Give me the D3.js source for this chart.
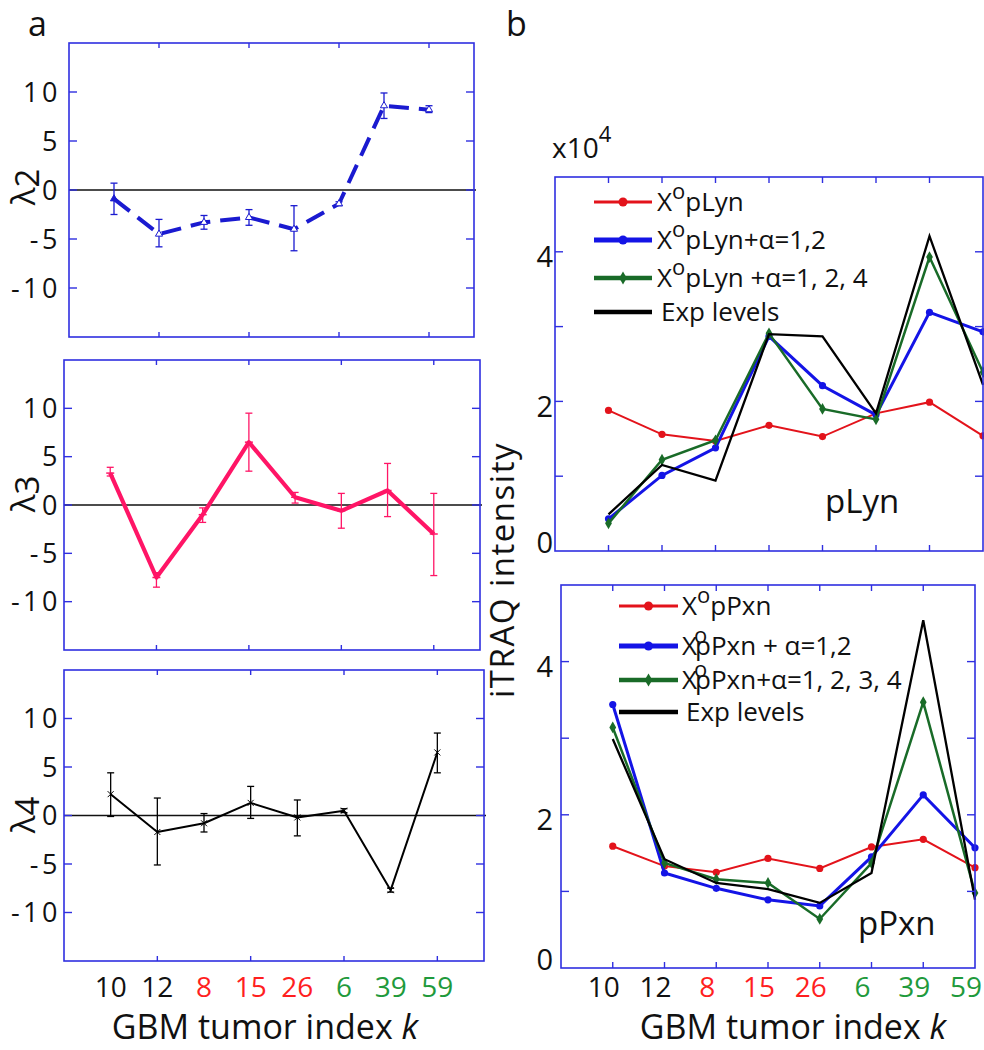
<!DOCTYPE html>
<html>
<head>
<meta charset="utf-8">
<script src="https://cdn.jsdelivr.net/npm/d3@7"></script>
<style>
  html, body { margin: 0; padding: 0; background: #fff; }
  svg { display: block; }
  text { font-family: "Open Sans", "Noto Sans", sans-serif; }
</style>
</head>
<body>
<svg id="chart" width="984" height="1050"></svg>
<script>
// ---------------- DATA ----------------
const categories = ["10", "12", "8", "15", "26", "6", "39", "59"];
const categoryGroup = ["k", "k", "r", "r", "r", "g", "g", "g"];

const yTicksA = [-10, -5, 0, 5, 10];
const xTickIdxA = [1, 3, 5, 7];
const yTicksB = [1, 2, 3, 4];
const yTickLabelsB = [0, 2, 4];
const xTickIdxB = [0, 1, 2, 3, 4, 5, 6];

const lambda2   = [-0.9, -4.5, -3.3, -2.8, -4.0, -1.4, 8.6, 8.2];
const lambda2Lo = [-2.5, -5.8, -4.0, -3.6, -6.2, -1.6, 7.3, 7.9];
const lambda2Hi = [0.7, -3.0, -2.6, -2.0, -1.6, -1.2, 9.9, 8.6];

const lambda3   = [3.3, -7.5, -1.0, 6.5, 0.8, -0.6, 1.5, -3.0];
const lambda3Lo = [3.0, -8.5, -1.8, 3.5, 0.2, -2.4, -1.2, -7.3];
const lambda3Hi = [3.9, -7.0, -0.3, 9.5, 1.3, 1.2, 4.3, 1.2];

const lambda4   = [2.2, -1.7, -0.8, 1.3, -0.2, 0.5, -7.7, 6.5];
const lambda4Lo = [-0.1, -5.1, -1.7, -0.3, -2.1, 0.3, -7.9, 4.4];
const lambda4Hi = [4.4, 1.8, 0.2, 3.0, 1.6, 0.7, -7.5, 8.5];

// iTRAQ intensity (x10^4)
const pLynX0    = [1.88, 1.56, 1.47, 1.68, 1.53, 1.84, 1.99, 1.54];
const pLynA12   = [0.43, 1.01, 1.38, 2.87, 2.21, 1.82, 3.19, 2.93];
const pLynA124  = [0.37, 1.22, 1.48, 2.91, 1.90, 1.76, 3.93, 2.39];
const pLynExp   = [0.49, 1.15, 0.94, 2.90, 2.87, 1.84, 4.21, 2.22];

const pPxnX0    = [1.59, 1.33, 1.25, 1.43, 1.30, 1.58, 1.68, 1.31];
const pPxnA12   = [3.44, 1.24, 1.04, 0.89, 0.81, 1.45, 2.26, 1.57];
const pPxnA1234 = [3.14, 1.37, 1.16, 1.11, 0.64, 1.37, 3.47, 0.98];
const pPxnExp   = [2.99, 1.42, 1.11, 1.03, 0.85, 1.24, 4.54, 0.89];

const legendPLyn = [
  ["X", "o", "pLyn", false],
  ["X", "o", "pLyn+\u03B1=1,2", false],
  ["X", "o", "pLyn +\u03B1=1, 2, 4", false],
  ["Exp levels", "", "", false]
];
const legendPPxn = [
  ["X", "o", "pPxn", false],
  ["X", "o", "pPxn + \u03B1=1,2", true],
  ["X", "o", "pPxn+\u03B1=1, 2, 3, 4", true],
  ["Exp levels", "", "", false]
];

// ---------------- STYLE ----------------
const AXIS = "#2f2fe0";
const groupColor = { k: "#111", r: "#ff1f1f", g: "#1f9a3c" };
const RED = "#e3131b", BLUE = "#1414e6", GREEN = "#196b28", BLACK = "#000";
const PINK = "#ff1566", DBLUE = "#1a1ad0";

const svg = d3.select("#chart");
svg.append("rect").attr("width", 984).attr("height", 1050).attr("fill", "#fff");

function frame(g, x, y, xt, yt, xTickLen, yTickLen) {
  const [x0, x1] = x.range(), [y0, y1] = y.range();
  xt.forEach(i => {
    g.append("line").attr("x1", x(i)).attr("x2", x(i)).attr("y1", y0).attr("y2", y0 - xTickLen)
      .attr("stroke", AXIS).attr("stroke-width", 1.4);
    g.append("line").attr("x1", x(i)).attr("x2", x(i)).attr("y1", y1).attr("y2", y1 + xTickLen)
      .attr("stroke", AXIS).attr("stroke-width", 1.4);
  });
  yt.forEach(v => {
    g.append("line").attr("x1", x0).attr("x2", x0 + yTickLen).attr("y1", y(v)).attr("y2", y(v))
      .attr("stroke", AXIS).attr("stroke-width", 1.4);
    g.append("line").attr("x1", x1).attr("x2", x1 - yTickLen).attr("y1", y(v)).attr("y2", y(v))
      .attr("stroke", AXIS).attr("stroke-width", 1.4);
  });
  g.append("rect").attr("x", x0).attr("y", y1).attr("width", x1 - x0).attr("height", y0 - y1)
    .attr("fill", "none").attr("stroke", AXIS).attr("stroke-width", 1.6);
}

// ---------------- PANEL a ----------------
const aPanels = [
  { box: [69, 474, 43, 337], v: lambda2, lo: lambda2Lo, hi: lambda2Hi, col: DBLUE, w: 4, dash: "20,10",
    ebCol: DBLUE, marker: "tri", sub: "2", lab: [35, 187] },
  { box: [64, 480, 360, 650], v: lambda3, lo: lambda3Lo, hi: lambda3Hi, col: PINK, w: 4.2, dash: null,
    ebCol: PINK, marker: "bar", sub: "3", lab: [35, 494] },
  { box: [64, 484, 670, 961], v: lambda4, lo: lambda4Lo, hi: lambda4Hi, col: BLACK, w: 2, dash: null,
    ebCol: BLACK, marker: "x", sub: "4", lab: [35, 815] }
];

aPanels.forEach(p => {
  const g = svg.append("g");
  const x = d3.scaleLinear().domain([-1, 8]).range([p.box[0], p.box[1]]);
  const y = d3.scaleLinear().domain([-15, 15]).range([p.box[3], p.box[2]]);
  // zero line
  g.append("line").attr("x1", x(-1)).attr("x2", x(8) + 2).attr("y1", y(0)).attr("y2", y(0))
    .attr("stroke", "#111").attr("stroke-width", 1.3);
  // error bars
  p.v.forEach((v, i) => {
    const cx = x(i);
    g.append("line").attr("x1", cx).attr("x2", cx).attr("y1", y(p.lo[i])).attr("y2", y(p.hi[i]))
      .attr("stroke", p.ebCol).attr("stroke-width", 1.3);
    [p.lo[i], p.hi[i]].forEach(e => g.append("line").attr("x1", cx - 3.5).attr("x2", cx + 3.5)
      .attr("y1", y(e)).attr("y2", y(e)).attr("stroke", p.ebCol).attr("stroke-width", 1.3));
  });
  // line
  const line = d3.line().x((d, i) => x(i)).y(d => y(d));
  const path = g.append("path").datum(p.v).attr("d", line).attr("fill", "none")
    .attr("stroke", p.col).attr("stroke-width", p.w).attr("stroke-linejoin", "round");
  if (p.dash) path.attr("stroke-dasharray", p.dash);
  // markers
  p.v.forEach((v, i) => {
    const cx = x(i), cy = y(v);
    if (p.marker === "tri") {
      g.append("path").attr("d", d3.symbol(d3.symbolTriangle, 22)())
        .attr("transform", `translate(${cx},${cy})`).attr("fill", i === 0 ? p.col : "#fff")
        .attr("stroke", p.col).attr("stroke-width", 1);
    } else if (p.marker === "x") {
      g.append("path").attr("d", `M${cx - 3},${cy - 3}L${cx + 3},${cy + 3}M${cx - 3},${cy + 3}L${cx + 3},${cy - 3}`)
        .attr("stroke", p.col).attr("stroke-width", 1);
    } else {
      g.append("line").attr("x1", cx - 4).attr("x2", cx + 4).attr("y1", cy).attr("y2", cy)
        .attr("stroke", p.col).attr("stroke-width", 1.5);
    }
  });
  frame(g, x, y, xTickIdxA, yTicksA, 5, 8);
  // y tick labels
  yTicksA.forEach(v => {
    g.append("text").attr("x", 61).attr("y", y(v)).attr("dy", "0.36em")
      .attr("text-anchor", "end").attr("font-size", 27).attr("letter-spacing", 3.5)
      .attr("fill", "#111").text(v);
  });
  // lambda label
  const t = g.append("text").attr("transform", `translate(${p.lab[0]},${p.lab[1]}) rotate(-90)`)
    .attr("text-anchor", "middle").attr("font-size", 33).attr("fill", "#111");
  t.append("tspan").text("\u03BB");
  t.append("tspan").attr("dy", 4).text(p.sub);
});

// panel a x tick labels
{
  const x = d3.scaleLinear().domain([-1, 8]).range([64, 484]);
  categories.forEach((c, i) => {
    svg.append("text").attr("x", x(i)).attr("y", 997).attr("text-anchor", "middle")
      .attr("font-size", 28).attr("fill", groupColor[categoryGroup[i]]).text(c);
  });
  const t = svg.append("text").attr("x", 265).attr("y", 1039).attr("text-anchor", "middle")
    .attr("font-size", 34).attr("fill", "#111");
  t.append("tspan").text("GBM tumor index ");
  t.append("tspan").attr("font-style", "italic").text("k");
}
svg.append("text").attr("x", 28).attr("y", 36).attr("font-size", 34).attr("fill", "#111").text("a");
svg.append("text").attr("x", 506).attr("y", 36).attr("font-size", 34).attr("fill", "#111").text("b");

// ---------------- PANEL b ----------------
const seriesStyle = [
  { col: RED, w: 2, marker: "circle", legW: 3 },
  { col: BLUE, w: 3, marker: "circle", legW: 5 },
  { col: GREEN, w: 2.5, marker: "diamond", legW: 4.5 },
  { col: BLACK, w: 2.3, marker: null, legW: 4.5 }
];

const bPanels = [
  { box: [555, 983, 177, 551], series: [pLynX0, pLynA12, pLynA124, pLynExp], legend: legendPLyn,
    leg: { x1: 594, x2: 652, tx: 657, ys: [202, 240, 278, 312] }, name: "pLyn", nameXY: [825, 513] },
  { box: [561, 975, 585, 968], series: [pPxnX0, pPxnA12, pPxnA1234, pPxnExp], legend: legendPPxn,
    leg: { x1: 619, x2: 678, tx: 682, ys: [606, 646, 680, 712] }, name: "pPxn", nameXY: [858, 935] }
];

bPanels.forEach(p => {
  const g = svg.append("g");
  const x = d3.scaleLinear().domain([-1, 7]).range([p.box[0], p.box[1]]);
  const y = d3.scaleLinear().domain([0, 5]).range([p.box[3], p.box[2]]);
  const line = d3.line().x((d, i) => x(i)).y(d => y(d));
  p.series.forEach((s, k) => {
    const st = seriesStyle[k];
    g.append("path").datum(s).attr("d", line).attr("fill", "none").attr("stroke", st.col)
      .attr("stroke-width", st.w).attr("stroke-linejoin", "miter");
    s.forEach((v, i) => {
      if (st.marker === "circle") {
        g.append("circle").attr("cx", x(i)).attr("cy", y(v)).attr("r", 3.6).attr("fill", st.col);
      } else if (st.marker === "diamond") {
        g.append("path").attr("d", d3.symbol(d3.symbolDiamond, 40)())
          .attr("transform", `translate(${x(i)},${y(v)})`).attr("fill", st.col);
      }
    });
  });
  frame(g, x, y, xTickIdxB, yTicksB, 6, 8);
  yTickLabelsB.forEach(v => {
    g.append("text").attr("x", 553).attr("y", y(v) + (v === 0 ? -8 : 5)).attr("dy", "0.36em")
      .attr("text-anchor", "end").attr("font-size", 29).attr("fill", "#111").text(v);
  });
  // legend
  p.legend.forEach((e, k) => {
    const st = seriesStyle[k];
    const ly = p.leg.ys[k];
    g.append("line").attr("x1", p.leg.x1).attr("x2", p.leg.x2).attr("y1", ly).attr("y2", ly)
      .attr("stroke", st.col).attr("stroke-width", st.legW);
    const mx = (p.leg.x1 + p.leg.x2) / 2;
    if (st.marker === "circle") g.append("circle").attr("cx", mx).attr("cy", ly).attr("r", 4.5).attr("fill", st.col);
    if (st.marker === "diamond") g.append("path").attr("d", d3.symbol(d3.symbolDiamond, 50)())
      .attr("transform", `translate(${mx},${ly})`).attr("fill", st.col);
    const t = g.append("text").attr("x", k === 3 ? p.leg.tx + 4 : p.leg.tx).attr("y", ly + 9)
      .attr("font-size", 26).attr("fill", "#111");
    t.append("tspan").text(e[0]);
    if (e[1]) {
      const o = t.append("tspan").attr("font-size", 22).attr("dy", -12).text(e[1]);
      const r = t.append("tspan").attr("dy", 12).text(e[2]);
      if (e[3]) {
        const w = o.node().getComputedTextLength();
        o.attr("dx", -3);
        r.attr("dx", -w + 1);
      }
    }
  });
  g.append("text").attr("x", p.nameXY[0]).attr("y", p.nameXY[1]).attr("font-size", 33)
    .attr("fill", "#111").text(p.name);
  if (p.name === "pPxn") {
    categories.forEach((c, i) => {
      g.append("text").attr("x", x(i) - 9).attr("y", 997).attr("text-anchor", "middle")
        .attr("font-size", 28).attr("fill", groupColor[categoryGroup[i]]).text(c);
    });
  }
});

// multiplier label and axis titles
{
  const t = svg.append("text").attr("x", 552).attr("y", 158).attr("font-size", 28).attr("fill", "#111");
  t.append("tspan").text("x10");
  t.append("tspan").attr("font-size", 22).attr("dy", -16).text("4");
  svg.append("text").attr("transform", "translate(514,570) rotate(-90)").attr("text-anchor", "middle")
    .attr("font-size", 33).attr("letter-spacing", 1.5).attr("fill", "#111").text("iTRAQ intensity");
  const t2 = svg.append("text").attr("x", 793).attr("y", 1039).attr("text-anchor", "middle")
    .attr("font-size", 34).attr("fill", "#111");
  t2.append("tspan").text("GBM tumor index ");
  t2.append("tspan").attr("font-style", "italic").text("k");
}
</script>
</body>
</html>
